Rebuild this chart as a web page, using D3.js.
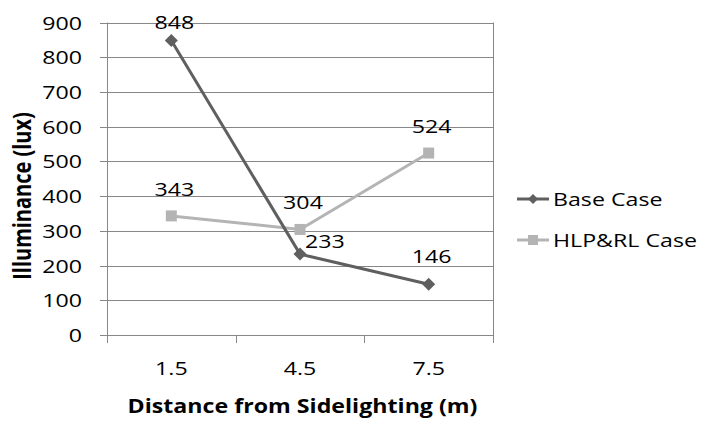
<!DOCTYPE html>
<html><head><meta charset="utf-8">
<script src="https://cdn.jsdelivr.net/npm/d3@7"></script>
<style>body{margin:0;background:#fff}svg{display:block}text{font-family:"Open Sans",sans-serif;fill:#000}</style>
</head><body>
<svg id="c" width="705" height="424"></svg>
<script>
const categories = ["1.5", "4.5", "7.5"];
const baseCase = [848, 233, 146];
const hlpCase = [343, 304, 524];
const yTicks = [0, 100, 200, 300, 400, 500, 600, 700, 800, 900];
const seriesNames = ["Base Case", "HLP&RL Case"];

const svg = d3.select("#c");
const SX = 1.22;
const L = 107, R = 493, T = 22.5, B = 335;
const x = d3.scaleBand().domain(categories).range([L, R]);
const y = d3.scaleLinear().domain([0, 900]).range([B, T]);
const grid = "#878787";

function txt(g, s, tx, ty, anchor, size, weight) {
  return g.append("text").text(s)
    .attr("transform", `translate(${tx},${ty}) scale(${SX},1)`)
    .attr("text-anchor", anchor).attr("font-size", size)
    .attr("font-weight", weight || "normal");
}

const gg = svg.append("g");
yTicks.forEach(v => {
  gg.append("line").attr("x1", L - 7).attr("x2", R).attr("y1", Math.round(y(v)) + 0.5).attr("y2", Math.round(y(v)) + 0.5)
    .attr("stroke", grid).attr("stroke-width", 1);
  txt(svg, String(v), 82, y(v) + 7, "end", 19);
});
gg.append("line").attr("x1", L + 0.5).attr("x2", L + 0.5).attr("y1", T).attr("y2", B + 8).attr("stroke", grid);
gg.append("line").attr("x1", R + 0.5).attr("x2", R + 0.5).attr("y1", T).attr("y2", B + 8).attr("stroke", grid);
categories.slice(1).forEach(c => {
  const xx = Math.round(x(c)) + 0.5;
  gg.append("line").attr("x1", xx).attr("x2", xx).attr("y1", B).attr("y2", B + 8).attr("stroke", grid);
});
categories.forEach(c => txt(svg, c, x(c) + x.bandwidth() / 2, 375, "middle", 19));

const cx = c => x(c) + x.bandwidth() / 2;
const line = d3.line().x((d, i) => cx(categories[i])).y(d => y(d));

const colors = ["#5f5f5f", "#b4b4b4"];
svg.append("path").datum(hlpCase).attr("d", line).attr("fill", "none").attr("stroke", colors[1]).attr("stroke-width", 3);
svg.append("path").datum(baseCase).attr("d", line).attr("fill", "none").attr("stroke", colors[0]).attr("stroke-width", 3);

const diamond = (g, px, py, s) => g.append("path")
  .attr("d", `M${px},${py - s}L${px + s},${py}L${px},${py + s}L${px - s},${py}Z`).attr("fill", colors[0]);
const square = (g, px, py, s) => g.append("rect")
  .attr("x", px - s).attr("y", py - s).attr("width", 2 * s).attr("height", 2 * s).attr("fill", colors[1]);

hlpCase.forEach((v, i) => square(svg, cx(categories[i]), y(v), 5.5));
baseCase.forEach((v, i) => diamond(svg, cx(categories[i]), y(v), 6.5));

hlpCase.forEach((v, i) => txt(svg, String(v), cx(categories[i]) + 3, y(v) - 20, "middle", 19));
baseCase.forEach((v, i) => {
  const px = cx(categories[i]), py = y(v);
  if (i === 1) txt(svg, String(v), px + 5, py - 6, "start", 19);
  else if (py - 21 < 30) txt(svg, String(v), px + 3, 28.5, "middle", 19);
  else txt(svg, String(v), px + 3, py - 21, "middle", 19);
});

const lg = svg.append("g");
seriesNames.forEach((n, i) => {
  const ly = 199 + i * 41;
  lg.append("line").attr("x1", 517).attr("x2", 549).attr("y1", ly).attr("y2", ly).attr("stroke", colors[i]).attr("stroke-width", 3);
  if (i === 0) diamond(lg, 533, ly, 5); else square(lg, 533, ly, 5);
  txt(lg, n, 553, ly + 7, "start", 19);
});

txt(svg, "Distance from Sidelighting (m)", 302.5, 413, "middle", 19, "bold");
svg.append("text").text("Illuminance (lux)")
  .attr("transform", `translate(31,196) scale(${SX},1) rotate(-90)`)
  .attr("text-anchor", "middle").attr("font-size", 20).attr("font-weight", "bold");
</script>
</body></html>
